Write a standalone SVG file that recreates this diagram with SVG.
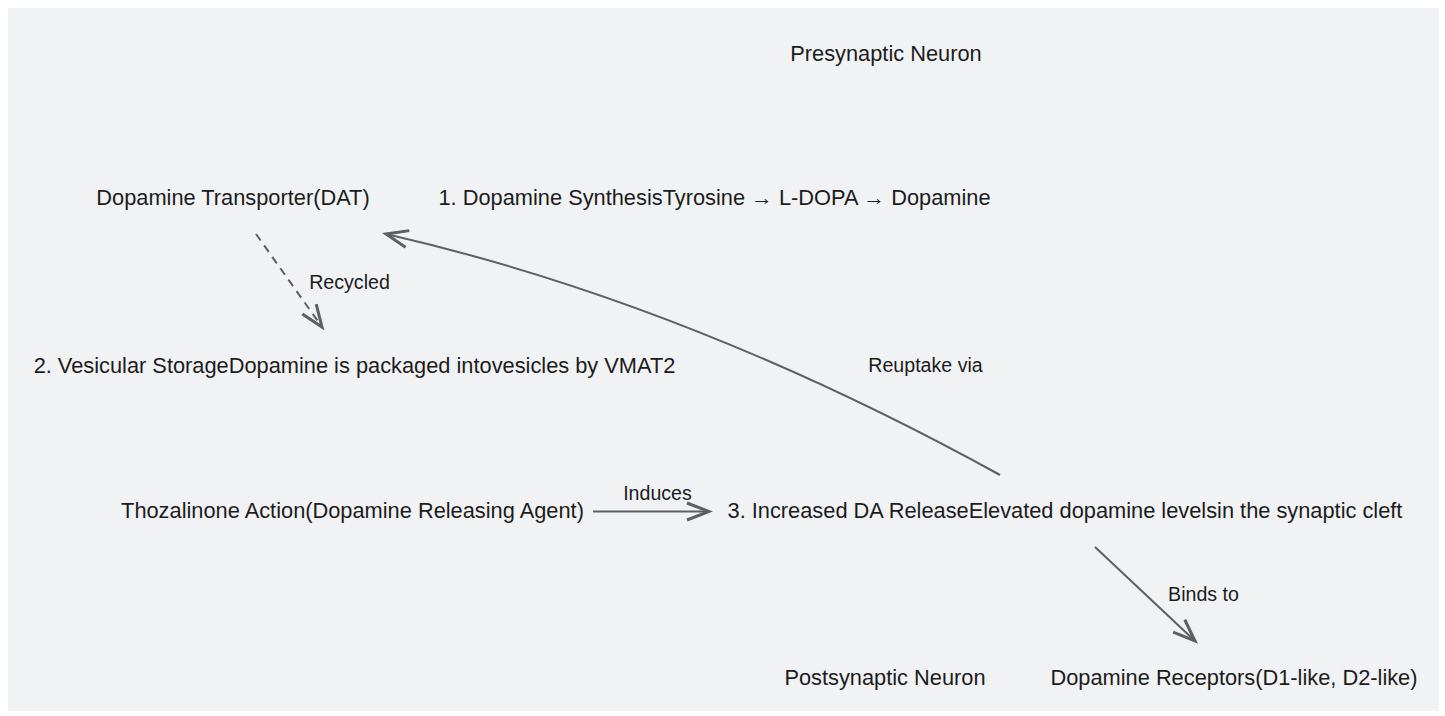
<svg xmlns="http://www.w3.org/2000/svg" width="1445" height="716" viewBox="0 0 1445 716">
<style>
.bg{fill:#f1f2f4}
.t{font-family:"Liberation Sans",Arial,sans-serif;font-size:21.8px;fill:#1c1c1c;text-anchor:middle}
.l{font-family:"Liberation Sans",Arial,sans-serif;font-size:19.6px;fill:#1c1c1c;text-anchor:middle}
.e{fill:none;stroke:#5c5f64;stroke-width:2}
.d{stroke-dasharray:8 6}
</style>
<defs>
<marker id="ah" markerUnits="userSpaceOnUse" viewBox="-26 -12 30 24" refX="0" refY="0" markerWidth="30" markerHeight="24" orient="auto">
<path d="M-22,-8.5 L0,0 L-22,8.5" fill="none" stroke="#5c5f64" stroke-width="3" stroke-linejoin="miter"/>
</marker>
</defs>
<rect class="bg" x="8" y="8" width="1431" height="703"/>
<g id="connectors">
<path class="e d" d="M256,234 L322,327" marker-end="url(#ah)"/>
<path class="e" d="M1000,475 Q688,303 386,234" marker-end="url(#ah)"/>
<path class="e" d="M593,511.5 L709,511.5" marker-end="url(#ah)"/>
<path class="e" d="M1095,547 L1195,641" marker-end="url(#ah)"/>
<text class="l" x="349.5" y="289">Recycled</text>
<text class="l" x="925.5" y="372">Reuptake via</text>
<text class="l" x="657.5" y="500">Induces</text>
<text class="l" x="1203.5" y="601">Binds to</text>
</g>
<g id="presynaptic"><text class="t" x="886" y="61">Presynaptic Neuron</text></g>
<g id="dat"><text class="t" x="233" y="205">Dopamine Transporter(DAT)</text></g>
<g id="synthesis"><text class="t" x="714.5" y="205">1. Dopamine SynthesisTyrosine → L-DOPA → Dopamine</text></g>
<g id="storage"><text class="t" x="354.5" y="373">2. Vesicular StorageDopamine is packaged intovesicles by VMAT2</text></g>
<g id="thozalinone"><text class="t" x="352.5" y="518">Thozalinone Action(Dopamine Releasing Agent)</text></g>
<g id="release"><text class="t" x="1065" y="518">3. Increased DA ReleaseElevated dopamine levelsin the synaptic cleft</text></g>
<g id="postsynaptic"><text class="t" x="885" y="685">Postsynaptic Neuron</text></g>
<g id="receptors"><text class="t" x="1234" y="685">Dopamine Receptors(D1-like, D2-like)</text></g>
</svg>
